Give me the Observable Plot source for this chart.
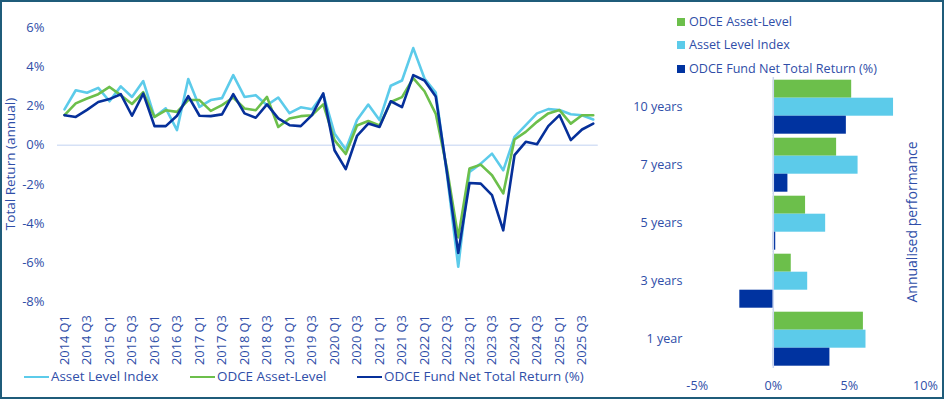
<!DOCTYPE html>
<html><head><meta charset="utf-8">
<script src="https://cdn.jsdelivr.net/npm/d3@7"></script>
<script src="https://cdn.jsdelivr.net/npm/@observablehq/plot@0.6"></script>
<style>
body{margin:0;background:#fff;font-family:"Open Sans",sans-serif;}
#wrap{position:relative;width:944px;height:399px;overflow:hidden;background:#fff;color:#2f4ea8}
#border{position:absolute;left:0;top:0;width:944px;height:399px;box-sizing:border-box;border:2px solid #1f5c7a;pointer-events:none}
.abs{position:absolute;white-space:nowrap}
.rot{transform:translate(-50%,-50%) rotate(-90deg)}
.lg{height:18px;line-height:18px}
</style></head>
<body><div id="wrap"><div id="border"></div></div>
<script>
const years = [2014,2015,2016,2017,2018,2019,2020,2021,2022,2023,2024,2025];
const quarterNames = ["Q1","Q2","Q3","Q4"];
const quarters = years.flatMap(y => quarterNames.map(q => y + " " + q));
const yTicks = [-8,-6,-4,-2,0,2,4,6];

const lineSeries = ["Asset Level Index","ODCE Asset-Level","ODCE Fund Net Total Return (%)"];
const assetLevelIndex = [1.83,2.8,2.67,2.92,2.24,3.0,2.46,3.27,1.44,1.88,0.77,3.37,1.95,2.3,2.4,3.57,2.46,2.55,2.04,2.43,1.63,1.93,1.83,2.6,0.6,-0.22,1.28,2.07,1.28,3.03,3.3,4.95,3.4,2.68,-1.5,-6.2,-1.36,-0.94,-0.43,-1.28,0.42,1.02,1.62,1.84,1.79,1.58,1.53,1.31];
const odceAssetLevel = [1.53,2.13,2.38,2.6,2.97,2.55,2.1,2.7,1.44,1.78,1.7,2.3,2.3,1.75,2.04,2.43,1.87,1.78,2.46,0.93,1.36,1.48,1.53,2.08,0.26,-0.45,1.0,1.23,1.0,2.2,2.45,3.42,2.75,1.6,-1.2,-4.7,-1.19,-0.99,-1.53,-2.46,0.29,0.68,1.19,1.62,1.79,1.1,1.53,1.53];
const odceFundNet = [1.53,1.44,1.8,2.2,2.35,2.6,1.5,2.63,0.97,0.97,1.5,2.5,1.5,1.48,1.57,2.6,1.62,1.4,2.08,1.37,1.02,0.97,1.53,2.64,-0.26,-1.22,0.47,1.1,0.93,2.24,1.94,3.57,3.3,2.48,-1.4,-5.5,-1.93,-1.96,-2.55,-4.34,-0.51,0.17,0.05,0.97,1.53,0.26,0.8,1.1];
const lineValues = [assetLevelIndex, odceAssetLevel, odceFundNet];
const lineColors = ["#5ccbea","#6cbf4b","#06309a"];

const periods = ["10 years","7 years","5 years","3 years","1 year"];
const barSeries = ["ODCE Asset-Level","Asset Level Index","ODCE Fund Net Total Return (%)"];
const barOdceAsset = [5.15,4.16,2.12,1.18,5.92];
const barAssetIndex = [7.9,5.57,3.44,2.26,6.09];
const barFundNet = [4.8,0.96,0.16,-2.2,3.72];
const barValues = [barOdceAsset, barAssetIndex, barFundNet];
const barColors = ["#6cbf4b","#5ccbea","#0033a0"];
const xBarTicks = [-5,0,5,10];

const TEXT = "#2f4ea8";
const wrap = document.getElementById("wrap");

// ---- left line chart ----
const lineData = [];
lineSeries.forEach((s,k) => lineValues[k].forEach((v,i) => lineData.push({series:s, i, v})));
const tickIdx = quarters.map((q,i) => i).filter(i => i % 2 === 0);
const left = Plot.plot({
  width: 610, height: 365,
  marginLeft: 64, marginRight: 17.25, marginTop: 27, marginBottom: 63.4,
  style: {fontFamily: "Open Sans", fontSize: "13px", color: TEXT, background: "transparent", overflow: "visible"},
  x: {type: "linear", domain: [0, quarters.length - 1], axis: null},
  y: {domain: [-8, 6], axis: null},
  color: {domain: lineSeries, range: lineColors},
  marks: [
    Plot.ruleY([0], {stroke: "#d6e1f6", strokeWidth: 1.5, insetLeft: -7, insetRight: -5}),
    Plot.line(lineData, {x: "i", y: "v", z: "series", stroke: "series", strokeWidth: 2.6}),
    Plot.axisY({ticks: yTicks, tickSize: 0, tickPadding: 20, tickFormat: d => d + "%", fontSize: 13, label: null}),
    Plot.axisX({ticks: tickIdx, tickFormat: i => quarters[i], tickRotate: -90, tickSize: 0, tickPadding: 13, fontSize: 12.8, label: null})
  ]
});
left.style.position = "absolute"; left.style.left = "0px"; left.style.top = "0px";
wrap.appendChild(left);

// ---- right bar chart ----
const barData = [];
periods.forEach((p,j) => barSeries.forEach((s,k) => barData.push({period:p, series:s, v: barValues[k][j]})));
const right = Plot.plot({
  width: 334, height: 399,
  marginLeft: 86.7, marginRight: 19, marginTop: 78.3, marginBottom: 32.1,
  style: {fontFamily: "Open Sans", fontSize: "12.6px", color: TEXT, background: "transparent", overflow: "visible"},
  x: {domain: [-5, 10], axis: null},
  fy: {domain: periods, padding: 0.06, axis: null},
  y: {domain: barSeries, padding: 0, axis: null},
  color: {domain: barSeries, range: barColors},
  marks: [
    Plot.barX(barData, {fy: "period", y: "series", x: "v", fill: "series", insetTop: 0, insetBottom: 0}),
    Plot.ruleX([0], {stroke: "#cdd8f0", strokeWidth: 1.5, insetTop: -2, insetBottom: -2}),
    Plot.axisFy({anchor: "left", tickSize: 0, tickPadding: 14.7, fontSize: 12.6, label: null}),
    Plot.axisX({ticks: xBarTicks, tickFormat: d => d + "%", tickSize: 0, tickPadding: 15, fontSize: 12.6, label: null})
  ]
});
right.style.position = "absolute"; right.style.left = "610px"; right.style.top = "0px";
wrap.appendChild(right);

// ---- HTML texts & legends ----
function addText(txt, css, cls) {
  const d = document.createElement("div");
  d.className = "abs " + (cls || "");
  d.textContent = txt;
  Object.assign(d.style, css);
  wrap.appendChild(d);
  return d;
}
addText("Total Return (annual)", {left: "9.5px", top: "164px", fontSize: "13.5px"}, "rot");
addText("Annualised performance", {left: "911px", top: "222px", fontSize: "14px"}, "rot");

// bottom legend (lines)
const bottomLegendX = [24, 190, 357];
lineSeries.forEach((s,k) => {
  const sw = document.createElement("div");
  sw.className = "abs";
  Object.assign(sw.style, {left: bottomLegendX[k] + "px", top: "375.5px", width: "25px", height: "2.6px", background: lineColors[k]});
  wrap.appendChild(sw);
  addText(s, {left: (bottomLegendX[k] + 27) + "px", top: "367px", fontSize: "13.4px"}, "lg");
});

// right legend (squares)
const rightLegendY = [21.5, 45, 68.5];
barSeries.forEach((s,k) => {
  const sq = document.createElement("div");
  sq.className = "abs";
  Object.assign(sq.style, {left: "677px", top: (rightLegendY[k] - 4) + "px", width: "8px", height: "8px", background: barColors[k]});
  wrap.appendChild(sq);
  addText(s, {left: "689px", top: (rightLegendY[k] - 9) + "px", fontSize: "12.6px"}, "lg");
});
</script>
</body></html>
